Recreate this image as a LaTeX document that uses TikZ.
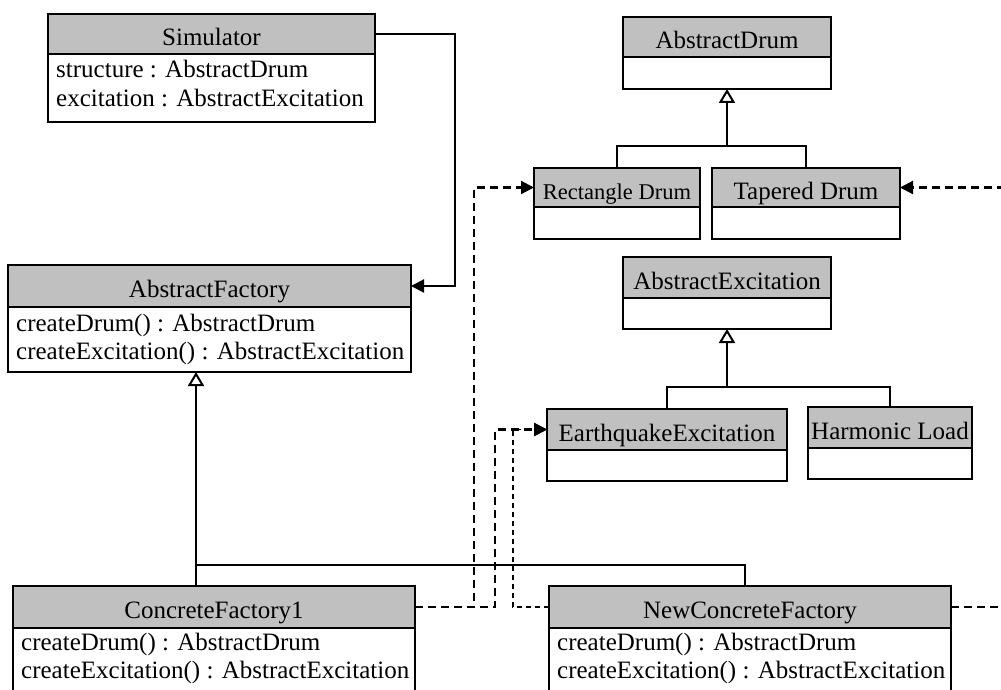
\documentclass[tikz,border=0pt]{standalone}
\usepackage{fontspec}
\setmainfont{Liberation Serif}
\usetikzlibrary{arrows.meta}
\definecolor{hdrgray}{RGB}{192,192,192}

\tikzset{
  classhead/.style={draw, line width=2pt, fill=hdrgray, inner sep=0pt, outer sep=0pt,
    text height=23pt, text depth=0pt, font=\fontsize{25}{29}\selectfont},
  classbody/.style={draw, line width=2pt, fill=white, inner sep=0pt, outer sep=0pt, anchor=north},
  member/.style={anchor=base west, inner sep=0pt, font=\fontsize{25}{29}\selectfont},
  assoc/.style={line width=2.2pt, -{Triangle[length=13pt,width=13pt]}},
  inherit/.style={line width=2pt, -{Triangle[open,fill=white,length=14pt,width=16pt]}},
  plainline/.style={line width=2pt},
  depend/.style={line width=2.2pt, dash pattern=on 8pt off 5pt,
    -{Triangle[length=13pt,width=13pt]}},
  dependthin/.style={line width=1.5pt, dash pattern=on 5pt off 4pt,
    -{Triangle[length=13pt,width=13pt]}},
}

% class box: #1 name, #2 left, #3 right, #4 head top, #5 head bottom, #6 body bottom, #7 title
\newcommand{\umlclass}[7]{%
  \node[classhead, minimum width={#3-#2}, minimum height={#5-#4}]
    (#1-h) at ({(#2+#3)/2},{(#4+#5)/2}) {#7};
  \node[classbody, minimum width={#3-#2}, minimum height={#6-#5}]
    (#1-b) at (#1-h.south) {};
}

\begin{document}
\begin{tikzpicture}[x=1pt, y=-1pt]
  \clip (0,0) rectangle (1001,690);
  \fill[white] (0,0) rectangle (1001,690);

  % left column: simulator and factories
  \umlclass{sim}{48}{375}{14}{54}{122}{Simulator}
  \node[member] (sim-a1) at ([shift={(8,24)}]sim-h.south west) {structure : AbstractDrum};
  \node[member] (sim-a2) at ([shift={(8,53)}]sim-h.south west) {excitation : AbstractExcitation};

  \umlclass{af}{8}{411}{265}{307}{372}{AbstractFactory}
  \node[member] (af-m1) at ([shift={(8,24)}]af-h.south west) {createDrum() : AbstractDrum};
  \node[member] (af-m2) at ([shift={(8,52)}]af-h.south west) {createExcitation() : AbstractExcitation};

  \umlclass{cf}{13}{415}{586}{628}{720}{ConcreteFactory1}
  \node[member] (cf-m1) at ([shift={(8,22)}]cf-h.south west) {createDrum() : AbstractDrum};
  \node[member] (cf-m2) at ([shift={(8,50)}]cf-h.south west) {createExcitation() : AbstractExcitation};

  \umlclass{ncf}{549}{951}{586}{628}{720}{NewConcreteFactory}
  \node[member] (ncf-m1) at ([shift={(8,22)}]ncf-h.south west) {createDrum() : AbstractDrum};
  \node[member] (ncf-m2) at ([shift={(8,50)}]ncf-h.south west) {createExcitation() : AbstractExcitation};

  % right column: products
  \umlclass{ad}{623}{831}{17}{57}{89}{AbstractDrum}
  \umlclass{rd}{534}{700}{168}{207}{239}{{\fontsize{22.5}{26}\selectfont Rectangle Drum}}
  \umlclass{td}{712}{900}{168}{207}{239}{Tapered Drum}

  \umlclass{ae}{623}{831}{257}{298}{329}{AbstractExcitation}
  \umlclass{ee}{547}{787}{409}{450}{481}{EarthquakeExcitation}
  \umlclass{hl}{808}{972}{407}{448}{479}{Harmonic Load}

  % association
  \draw[assoc] (sim-h.east) -- ++(80,0) |- (af-h.east);

  % generalisations
  \coordinate (afj) at (196,565);
  \draw[plainline] (afj |- cf-h.north) -- (afj) -| (745,586);
  \draw[inherit] (afj) -- (afj |- af-b.south);

  \coordinate (adj) at (727,146);
  \draw[plainline] (rd-h.north) |- (adj) -| (td-h.north);
  \draw[inherit] (adj) -- (ad-b.south);

  \coordinate (aej) at (727,387);
  \draw[plainline] (ee-h.north) |- (aej) -| (hl-h.north);
  \draw[inherit] (aej) -- (ae-b.south);

  % dependencies
  \draw[depend] (cf-h.east) -- ++(59,0) |- (rd-h.west);
  \draw[depend] (cf-h.east) -- ++(80,0) |- (ee-h.west);
  \draw[dependthin] (ncf-h.west) -- ++(-36,0) |- (ee-h.west);
  \draw[depend] (ncf-h.east) -- ++(90,0) |- (td-h.east);
\end{tikzpicture}
\end{document}
